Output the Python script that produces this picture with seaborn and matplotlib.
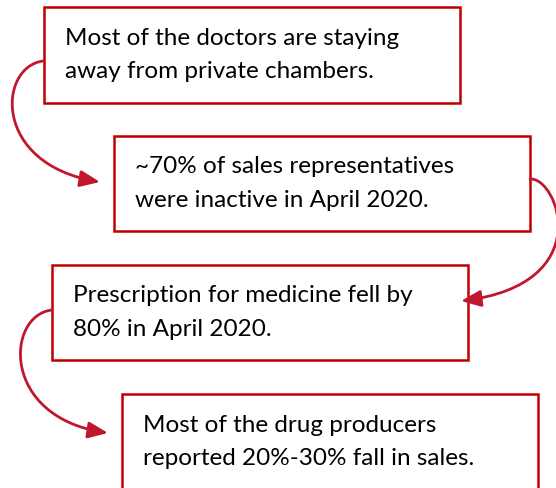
import matplotlib
matplotlib.use("Agg")
import matplotlib.pyplot as plt
import seaborn as sns
from matplotlib.patches import Rectangle, FancyArrowPatch
from matplotlib.path import Path

# Text of the four boxes (two lines each)
line1 = [
    "Most of the doctors are staying",
    "~70% of sales representatives",
    "Prescription for medicine fell by",
    "Most of the drug producers",
]
line2 = [
    "away from private chambers.",
    "were inactive in April 2020.",
    "80% in April 2020.",
    "reported 20%-30% fall in sales.",
]

# Layout in pixel units (x0, y0, x1, y1), y grows downward
boxes = [(44, 8, 460, 104), (114, 137, 530, 232), (52, 266, 468, 361), (122, 395, 538, 500)]
text_x = [65, 135, 73, 143]
base1 = [45, 173, 302, 432]
base2 = [78, 207, 336, 465]

box_color = "#C00000"
arrow_color = "#C0172F"

sns.set_style("white")
plt.rcParams["font.family"] = ["Lato", "DejaVu Sans"]

fig = plt.figure(figsize=(5.56, 4.89), dpi=100)
ax = fig.add_axes([0, 0, 1, 1])
ax.set_xlim(0, 556)
ax.set_ylim(489, 0)
ax.axis("off")

for i, (x0, y0, x1, y1) in enumerate(boxes):
    ax.add_patch(Rectangle((x0, y0), x1 - x0, y1 - y0, fill=True, facecolor="white",
                           edgecolor=box_color, lw=1.8, zorder=2))
    ax.text(text_x[i], base1[i], line1[i], fontsize=17.5, va="baseline", ha="left", color="black", zorder=3)
    ax.text(text_x[i], base2[i], line2[i], fontsize=17.5, va="baseline", ha="left", color="black", zorder=3)

# curved connectors (cubic bezier)
curves = [
    [(43, 62), (-2, 68), (-8, 165), (100, 183)],
    [(530, 180), (558, 178), (598, 285), (461, 302)],
    [(52, 311), (6, 316), (0, 418), (108, 434)],
]
codes = [Path.MOVETO, Path.CURVE4, Path.CURVE4, Path.CURVE4]
for pts in curves:
    arr = FancyArrowPatch(path=Path(pts, codes),
                          arrowstyle="-|>,head_length=0.6,head_width=0.25",
                          mutation_scale=20, color=arrow_color, lw=2.0, zorder=4)
    ax.add_patch(arr)

fig.savefig("out.png", dpi=100)
